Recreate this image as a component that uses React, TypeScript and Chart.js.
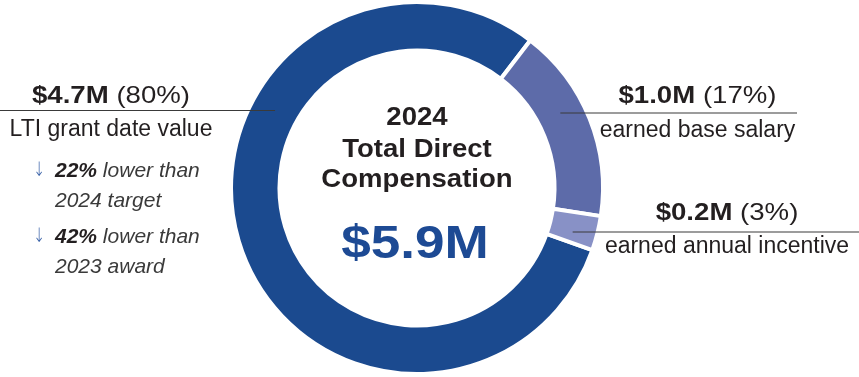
import React, { useEffect, useRef } from "react";
import { Chart, registerables } from "chart.js";

Chart.register(...registerables);

// ---- data ----
const categories = ["LTI grant date value", "earned base salary", "earned annual incentive"];
const valuesM = [4.7, 1.0, 0.2];
const percents = [80, 17, 3];
const totalLabel = "$5.9M";
const centerTitle = ["2024", "Total Direct", "Compensation"];
const noteBold = ["22%", "42%"];
const noteRest = [" lower than", " lower than"];
const noteLine2 = ["2024 target", "2023 award"];

// ---- styles / layout ----
const COLORS = ["#1b4a8f", "#5d6ba9", "#8891c6"];
const TEXT = "#231f20";
const BLUE_TEXT = "#1d4a94";
const ARROW = "#3a62a8";
const FAMILY = '"Liberation Sans", Arial, Helvetica, sans-serif';

// label layout: side, line y, line outer end x, text centre x, headline baseline, sub baseline
const labelLayout = [
  { side: "left", lineY: 110.5, lineEnd: 0, cx: 111, head: 102.5, sub: 136 },
  { side: "right", lineY: 113, lineEnd: 797, cx: 697.5, head: 103, sub: 137 },
  { side: "right", lineY: 232, lineEnd: 859, cx: 727, head: 220, sub: 253 },
];
const notesLayout = { arrowX: 39, textX: 55, baselines: [177, 207, 243, 273] };

type Run = { text: string; font: string; color: string };

function drawRuns(ctx: CanvasRenderingContext2D, runs: Run[], cx: number, baseline: number, scaleX: number, align: "center" | "left" = "center") {
  ctx.save();
  ctx.textBaseline = "alphabetic";
  ctx.textAlign = "left";
  let total = 0;
  const widths = runs.map((r) => {
    ctx.font = r.font;
    const w = ctx.measureText(r.text).width;
    total += w;
    return w;
  });
  ctx.translate(cx, baseline);
  ctx.scale(scaleX, 1);
  let x = align === "center" ? -total / 2 : 0;
  runs.forEach((r, i) => {
    ctx.font = r.font;
    ctx.fillStyle = r.color;
    ctx.fillText(r.text, x, 0);
    x += widths[i];
  });
  ctx.restore();
}

const overlayPlugin = {
  id: "tdcOverlay",
  afterDraw(chart: any) {
    const ctx: CanvasRenderingContext2D = chart.ctx;
    const arc = chart.getDatasetMeta(0).data[0];
    if (!arc) return;
    const cx = arc.x;
    const cy = arc.y;
    const midR = (arc.innerRadius + arc.outerRadius) / 2;

    // centre text
    const titleFont = `bold 26px ${FAMILY}`;
    const offs = [-63, -31, -1];
    centerTitle.forEach((t, i) => {
      drawRuns(ctx, [{ text: t, font: titleFont, color: TEXT }], cx, cy + offs[i], 1.06);
    });
    drawRuns(ctx, [{ text: totalLabel, font: `bold 47px ${FAMILY}`, color: BLUE_TEXT }], cx - 2, cy + 70, 1.13);

    // labels with leader lines
    labelLayout.forEach((L, i) => {
      const dy = L.lineY - cy;
      const dx = Math.sqrt(Math.max(midR * midR - dy * dy, 0));
      const startX = L.side === "left" ? cx - dx : cx + dx;
      ctx.save();
      ctx.strokeStyle = "#3a3a3a";
      ctx.lineWidth = 1.2;
      ctx.beginPath();
      ctx.moveTo(startX, L.lineY);
      ctx.lineTo(L.lineEnd, L.lineY);
      ctx.stroke();
      ctx.restore();

      drawRuns(
        ctx,
        [
          { text: `$${valuesM[i].toFixed(1)}M`, font: `bold 24px ${FAMILY}`, color: TEXT },
          { text: ` (${percents[i]}%)`, font: `24px ${FAMILY}`, color: TEXT },
        ],
        L.cx,
        L.head,
        1.15
      );
      drawRuns(ctx, [{ text: categories[i], font: `23px ${FAMILY}`, color: TEXT }], L.cx, L.sub, 1.0);
    });

    // notes under LTI
    noteBold.forEach((b, i) => {
      const b1 = notesLayout.baselines[i * 2];
      const b2 = notesLayout.baselines[i * 2 + 1];
      drawRuns(ctx, [{ text: "↓", font: `200 20px "DejaVu Sans", sans-serif`, color: ARROW }], notesLayout.arrowX, b1 - 1, 0.7);
      drawRuns(
        ctx,
        [
          { text: b, font: `italic bold 21px ${FAMILY}`, color: TEXT },
          { text: noteRest[i], font: `italic 21px ${FAMILY}`, color: "#3a3a3a" },
        ],
        notesLayout.textX,
        b1,
        1.0,
        "left"
      );
      drawRuns(ctx, [{ text: noteLine2[i], font: `italic 21px ${FAMILY}`, color: "#3a3a3a" }], notesLayout.textX, b2, 1.0, "left");
    });
  },
};

export default function App() {
  const canvasRef = useRef<HTMLCanvasElement | null>(null);

  useEffect(() => {
    if (!canvasRef.current) return;
    const chart = new Chart(canvasRef.current, {
      type: "doughnut",
      data: {
        labels: categories,
        datasets: [
          {
            data: percents,
            backgroundColor: COLORS,
            borderColor: "#ffffff",
            borderWidth: 4,
            hoverOffset: 0,
          },
        ],
      },
      options: {
        animation: false,
        responsive: true,
        maintainAspectRatio: false,
        rotation: 109.5,
        cutout: 137.5,
        layout: { padding: { left: 229, right: 254, top: 0, bottom: 1 } },
        plugins: {
          legend: { display: false },
          tooltip: { enabled: false },
        },
        events: [],
      },
      plugins: [overlayPlugin],
    });
    return () => chart.destroy();
  }, []);

  return (
    <div style={{ position: "absolute", left: 0, top: 0, width: 859, height: 377, background: "#fff" }}>
      <canvas ref={canvasRef} />
    </div>
  );
}
